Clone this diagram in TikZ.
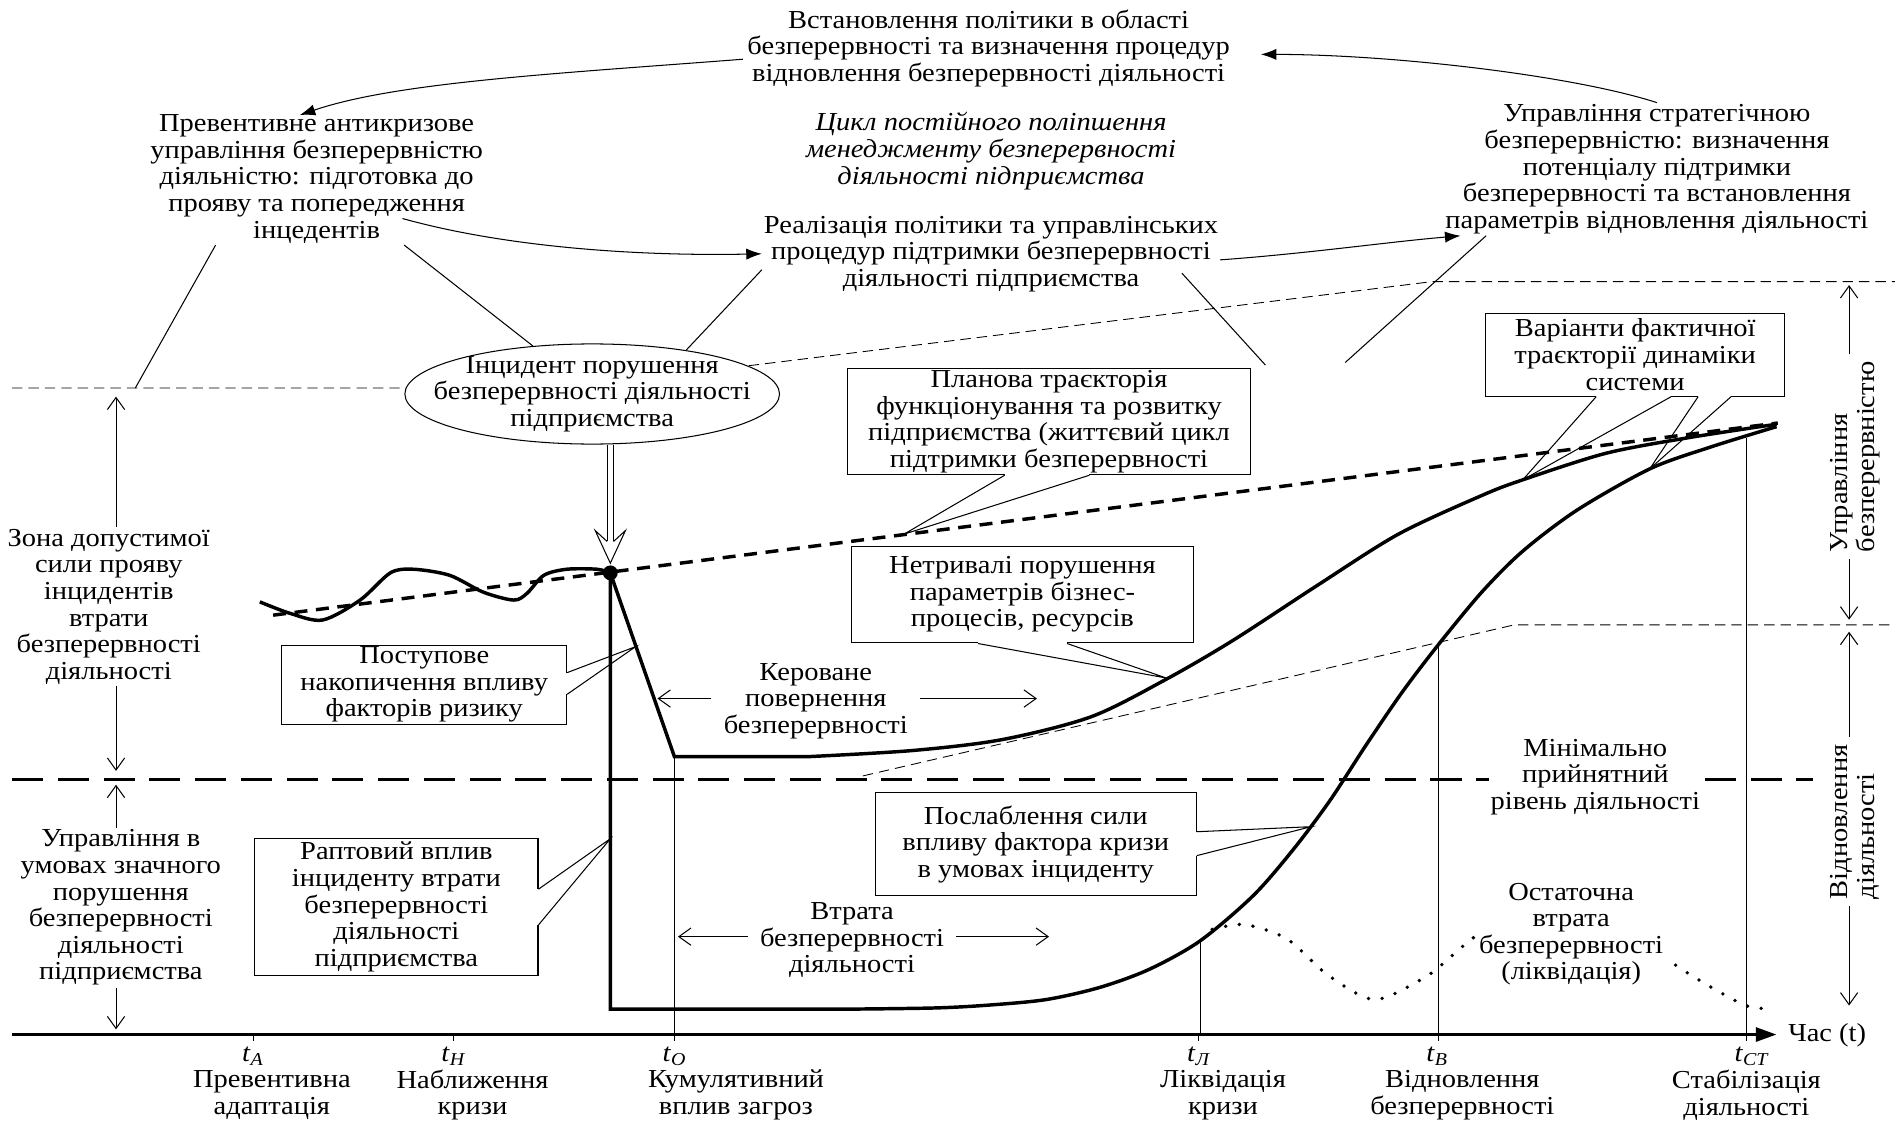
\documentclass[tikz,border=0pt]{standalone}
\usepackage{fontspec}
\setmainfont{Liberation Serif}[FakeStretch=1.1]
\usetikzlibrary{calc}
\usetikzlibrary{shapes}
\usetikzlibrary{arrows.meta}

\newcommand{\figfont}{\fontsize{15pt}{15.4pt}\selectfont}
% two thin lines from a box edge to the point it marks
\newcommand{\calloutwedge}[3]{%
  \draw[white, line width=1.4pt] (#1) -- (#2);
  \draw[thinline] (#1) -- (#3) -- (#2);}

\tikzset{
  txt/.style={align=center, font=\figfont, inner sep=1pt},
  callout/.style={txt, draw, line width=0.6pt, fill=white},
  thinline/.style={line width=0.6pt},
  curve/.style={line width=2pt},
  plandash/.style={line width=2pt, dash pattern=on 7.5pt off 5pt},
  leveldash/.style={line width=1.9pt, dash pattern=on 18pt off 8.5pt},
  thindash/.style={line width=0.5pt, dash pattern=on 6pt off 3.5pt},
  dotcurve/.style={line width=2.2pt, line cap=round, dash pattern=on 0pt off 8pt},
  cyclearrow/.style={line width=0.6pt, -{Latex[length=9pt,width=6.5pt]}},
  barbarrow/.style={line width=0.6pt, -{Straight Barb[length=7pt,width=10pt]}},
}

\begin{document}
\begin{tikzpicture}[x=0.7pt, y=-0.7pt]
  \useasboundingbox (0,0) rectangle (1568,930);

  % levels and axis
  \coordinate (lvlA) at (10,321);
  \coordinate (lvlD) at (1185,233);
  \coordinate (lvlB) at (10,645);
  \coordinate (lvlC) at (1253,517);
  \coordinate (axisL) at (10,856);
  \coordinate (axisR) at (1470,856);
  \draw[thindash] (lvlA) -- (470,321) -- (lvlD) -- (1568,233);
  \draw[thindash] (714,642) -- (lvlC) -- (1568,517);
  \draw[leveldash] (lvlB) -- (1500,645);
  \draw[line width=2pt, -{Triangle[length=12pt,width=8pt]}] (axisL) -- (axisR);
  \node[txt, anchor=west] (time) at (1478,857) {Час (t)};

  % points on the curves
  \coordinate (dot) at (505,474);
  \coordinate (trough) at (558,626);
  \coordinate (plantip) at (748,442);
  \coordinate (shorttip) at (965,561);
  \coordinate (vartipA) at (1260,397);
  \coordinate (vartipB) at (1365,388);
  \coordinate (gradtip) at (526,535);
  \coordinate (suddentip) at (505,694);
  \coordinate (weaktip) at (1085,684);
  \coordinate (liq) at (993,778);
  \coordinate (rec) at (1190,534);
  \coordinate (stab) at (1445,362);

  % trajectories
  \draw[plandash] (226,509) -- (1471,350);
  \draw[curve] plot[smooth] coordinates {(215,498) (240,507.5) (267,513) (298,496.5)
    (323,474) (342,471) (372,476) (400,490) (425,496.5) (436,491) (450,476)
    (469,471) (494,471) (dot)};
  \draw[curve] (dot) -- (trough) -- plot[smooth] coordinates {(670,626) (755,621)
    (829,612) (903,593) (965,562) (1020,530) (1089,485) (1157,442) (1226,410)
    (1260,397) (1329,375) (1398,362) (1470,351)};
  \draw[curve] (dot) -- (505,835) -- plot[smooth] coordinates {(700,835) (774,834)
    (820,831.5) (866,827) (910,817) (951,802) (993,778.5) (1037,741) (1070,703)
    (1100,663) (1130,617) (1160,573) (1190,533.6) (1226,490) (1260,456)
    (1305,422) (1365,388) (1415,370) (1470,353)};
  \draw[dotcurve] plot[smooth] coordinates {(1003,769) (1030,765) (1065,777) (1099,807)
    (1137,827) (1175,811) (1192,799) (1214,780) (1255,750) (1295,742) (1340,762)
    (1387,799) (1442,831) (1465,834)};
  \fill (dot) circle[radius=4.3pt];

  % time marks
  \foreach \x/\tag/\sub/\dx/\desc in {210/a/А/225/Превентивна\\адаптація,
      375/n/Н/391/Наближення\\кризи, 558/o/О/609/Кумулятивний\\вплив загроз,
      992/l/Л/1012/Ліквідація\\кризи, 1190/b/В/1210/Відновлення\\безперервності,
      1445/s/СТ/1445/Стабілізація\\діяльності}{
    \draw[thinline] (\x,856) -- (\x,861);
    \node[txt, anchor=west, inner sep=0pt] (t\tag) at (\x-10,874) {\textit{t}\textsubscript{\textit{\sub}}};
    \node[txt, inner sep=0pt] (d\tag) at (\dx,906) {\desc};
  }
  \draw[thinline] (trough) -- (trough |- axisL);
  \draw[thinline] (liq) -- (liq |- axisL);
  \draw[thinline] (rec) -- (rec |- axisL);
  \draw[thinline] (stab) -- (stab |- axisL);

  % cycle of improvement
  \node[txt] (top) at (818,40) {Встановлення політики в області\\безперервності та визначення процедур\\відновлення безперервності діяльності};
  \node[txt] (prev) at (262,148) {Превентивне антикризове\\управління безперервністю\\діяльністю: підготовка до\\прояву та попередження\\інцедентів};
  \node[txt, font=\figfont\itshape] (cycle) at (820,125) {Цикл постійного поліпшення\\менеджменту безперервності\\діяльності підприємства};
  \node[txt] (real) at (820,210) {Реалізація політики та управлінських\\процедур підтримки безперервності\\діяльності підприємства};
  \node[txt] (strat) at (1371,140) {Управління стратегічною\\безперервністю: визначення\\потенціалу підтримки\\безперервності та встановлення\\параметрів відновлення діяльності};
  \draw[cyclearrow] ($(top.west)+(-2,9)$) .. controls (459,61) and (328,68) .. ($(prev.north)+(-14,2)$);
  \draw[cyclearrow] (strat.north) .. controls (1300,62) and (1150,45) .. ($(top.east)+(24,5)$);
  \draw[cyclearrow] ($(prev.south)+(71,-22)$) .. controls (420,205) and (530,212) .. (real.west);
  \draw[cyclearrow] ($(real.east)+(0,5)$) .. controls (1080,210) and (1150,200) .. ($(strat.south west)!0.04!(strat.south east)$);

  % incident
  \node[ellipse, draw, thinline, fill=white, minimum width=217pt, minimum height=58pt] (incident) at (490,326) {};
  \node[txt] (incidenttxt) at (incident) {Інцидент порушення\\безперервності діяльності\\підприємства};
  \draw[thinline, double, double distance=3.2pt] (dot |- incident.south) -- ($(dot)+(0,-26)$);
  \draw[thinline] ($(dot)+(-2.7,-26)$) -- ($(dot)+(-12.5,-35)$) -- ($(dot)+(0,-8)$)
    -- ($(dot)+(12.5,-35)$) -- ($(dot)+(2.7,-26)$);

  % spokes
  \coordinate (spkA) at (112,321);
  \coordinate (spkB) at (1047,302);
  \coordinate (spkC) at (1113,300);
  \draw[thinline] ($(prev.south west)!0.2!(prev.south east)$) -- (spkA);
  \draw[thinline] ($(prev.south west)!0.76!(prev.south east)$) -- (incident.141);
  \draw[thinline] ($(real.south west)!0.3!(real.north west)$) -- (incident.25);
  \draw[thinline] ($(real.south)+(158,-17)$) -- (spkB);
  \draw[thinline] ($(strat.south west)!0.1!(strat.south east)$) -- (spkC);

  % callouts
  \node[callout, minimum width=233pt, minimum height=57pt] (plan) at (868,349) {Планова траєкторія\\функціонування та розвитку\\підприємства (життєвий цикл\\підтримки безперервності};
  \calloutwedge{$(plan.south west)!0.39!(plan.south east)$}{$(plan.south west)!0.60!(plan.south east)$}{plantip}
  \node[callout, minimum width=198pt, minimum height=56pt] (short) at (846,492) {Нетривалі порушення\\параметрів бізнес-\\процесів, ресурсів};
  \calloutwedge{$(short.south west)!0.37!(short.south east)$}{$(short.south west)!0.63!(short.south east)$}{shorttip}
  \node[callout, minimum width=173pt, minimum height=48pt] (var) at (1353,293.5) {Варіанти фактичної\\траєкторії динаміки\\системи};
  \calloutwedge{$(var.south west)!0.37!(var.south east)$}{$(var.south west)!0.62!(var.south east)$}{vartipA}
  \calloutwedge{$(var.south west)!0.71!(var.south east)$}{$(var.south west)!0.82!(var.south east)$}{vartipB}
  \node[callout, minimum width=165pt, minimum height=45.5pt] (grad) at (351,566.5) {Поступове\\накопичення впливу\\факторів ризику};
  \calloutwedge{$(grad.north east)!0.35!(grad.south east)$}{$(grad.north east)!0.62!(grad.south east)$}{gradtip}
  \node[callout, minimum width=164pt, minimum height=79pt] (sudden) at (328,750.5) {Раптовий вплив\\інциденту втрати\\безперервності\\діяльності\\підприємства};
  \calloutwedge{$(sudden.north east)!0.37!(sudden.south east)$}{$(sudden.north east)!0.63!(sudden.south east)$}{suddentip}
  \node[callout, minimum width=186pt, minimum height=59.5pt] (weak) at (857,698.5) {Послаблення сили\\впливу фактора кризи\\в умовах інциденту};
  \calloutwedge{$(weak.north east)!0.38!(weak.south east)$}{$(weak.north east)!0.61!(weak.south east)$}{weaktip}

  % phases
  \coordinate (kerL) at (544,578);
  \coordinate (kerR) at (858,578);
  \coordinate (lossL) at (561,775);
  \coordinate (lossR) at (868,775);
  \node[txt] (ker) at (675,580) {Кероване\\повернення\\безперервності};
  \draw[barbarrow, shorten <=6pt] (ker.west |- kerL) -- (kerL);
  \draw[barbarrow, shorten <=6pt] (ker.east |- kerR) -- (kerR);
  \node[txt] (loss) at (705,778) {Втрата\\безперервності\\діяльності};
  \draw[barbarrow, shorten <=6pt] (loss.west |- lossL) -- (lossL);
  \draw[barbarrow, shorten <=6pt] (loss.east |- lossR) -- (lossR);
  \node[txt, fill=white] (minlvl) at (1320,643) {Мінімально\\прийнятний\\рівень діяльності};
  \node[txt, fill=white, inner sep=2pt] (final) at (1300,773) {Остаточна\\втрата\\безперервності\\(ліквідація)};

  % zones on the left
  \coordinate (arrL) at (96,0);
  \node[txt] (zone) at (90,502) {Зона допустимої\\сили прояву\\інцидентів\\втрати\\безперервності\\діяльності};
  \node[txt] (crisis) at (100,751) {Управління в\\умовах значного\\порушення\\безперервності\\діяльності\\підприємства};
  \draw[barbarrow, shorten >=5pt] (arrL |- zone.north) -- (arrL |- lvlA);
  \draw[barbarrow, shorten >=5pt] (arrL |- zone.south) -- (arrL |- lvlB);
  \draw[barbarrow, shorten >=3pt] (arrL |- crisis.north) -- (arrL |- lvlB);
  \draw[barbarrow, shorten >=3pt] (arrL |- crisis.south) -- (arrL |- axisL);

  % zones on the right
  \coordinate (arrR) at (1530,0);
  \coordinate (restoreEnd) at (1530,832);
  \node[txt, align=left, rotate=90] (mgmt) at (1535,378) {Управління\\безперервністю};
  \node[txt, align=left, rotate=90] (restore) at (1535,680) {Відновлення\\діяльності};
  \draw[barbarrow, shorten <=3pt, shorten >=2pt] (arrR |- mgmt.east) -- (arrR |- lvlD);
  \draw[barbarrow, shorten <=3pt, shorten >=3pt] (arrR |- mgmt.west) -- (arrR |- lvlC);
  \draw[barbarrow, shorten <=3pt, shorten >=4pt] (arrR |- restore.east) -- (arrR |- lvlC);
  \draw[barbarrow, shorten <=3pt] (arrR |- restore.west) -- (restoreEnd);
\end{tikzpicture}
\end{document}
